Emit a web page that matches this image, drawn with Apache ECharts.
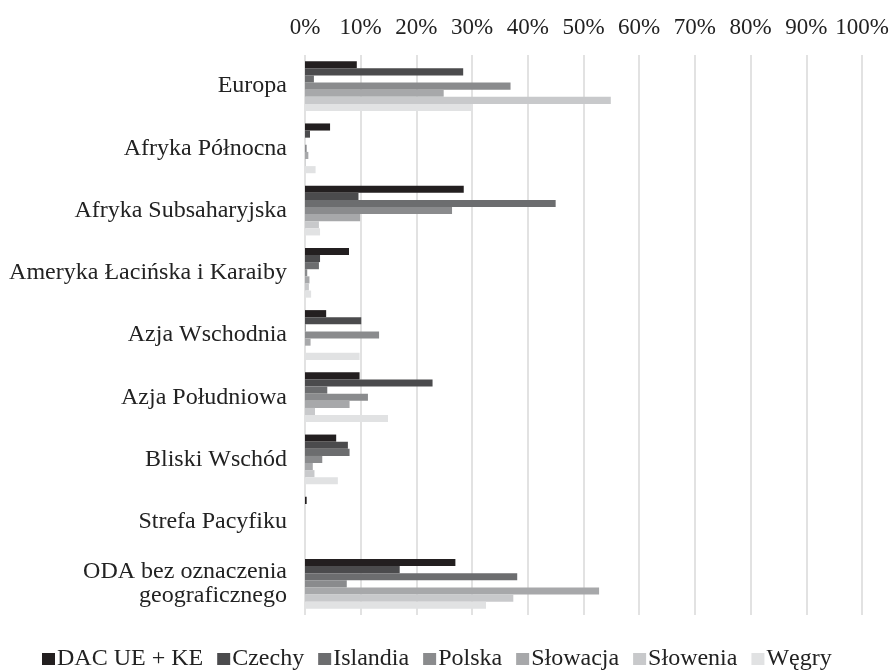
<!DOCTYPE html>
<html>
<head>
<meta charset="utf-8">
<script src="https://cdn.jsdelivr.net/npm/echarts@6/dist/echarts.min.js"></script>
<style>
  html, body { margin: 0; padding: 0; background: #fff; }
  #chart { width: 895px; height: 672px; }
</style>
</head>
<body>
<div id="chart"></div>
<script>
// regiony (od góry)
var categories = [
  'Europa',
  'Afryka Północna',
  'Afryka Subsaharyjska',
  'Ameryka Łacińska i Karaiby',
  'Azja Wschodnia',
  'Azja Południowa',
  'Bliski Wschód',
  'Strefa Pacyfiku',
  'ODA bez oznaczenia\ngeograficznego'
];
var xTicks = [0, 10, 20, 30, 40, 50, 60, 70, 80, 90, 100];

// udział w %
var dacUeKe   = [9.3, 4.5, 28.5, 7.9, 3.8, 9.8, 5.6, 0.3, 27.0];
var czechy    = [28.4, 0.9, 9.6, 2.7, 10.1, 22.9, 7.7, 0, 17.0];
var islandia  = [1.6, 0, 45.0, 2.5, 0.1, 4.0, 8.0, 0, 38.1];
var polska    = [36.9, 0.3, 26.4, 0.4, 13.3, 11.3, 3.1, 0, 7.5];
var slowacja  = [24.9, 0.6, 9.9, 0.8, 1.0, 8.0, 1.4, 0, 52.8];
var slowenia  = [54.9, 0.1, 2.5, 0.7, 0, 1.8, 1.7, 0, 37.4];
var wegry     = [30.0, 1.9, 2.7, 1.1, 9.8, 14.9, 5.9, 0, 32.5];

var seriesNames = ['DAC UE + KE', 'Czechy', 'Islandia', 'Polska', 'Słowacja', 'Słowenia', 'Węgry'];
var seriesData = [dacUeKe, czechy, islandia, polska, slowacja, slowenia, wegry];
var colors = ['#231f20', '#4b4b4d', '#6c6d6f', '#8a8b8d', '#a7a8aa', '#c8c9cb', '#e1e2e3'];

var font = "'Liberation Serif', 'Times New Roman', serif";

var myChart = echarts.init(document.getElementById('chart'));

myChart.setOption({
  animation: false,
  textStyle: { fontFamily: font },
  grid: {
    left: 305,
    right: 33,
    top: 55,
    bottom: 57,
    containLabel: false
  },
  legend: {
    bottom: 1,
    left: 42,
    padding: 0,
    data: seriesNames,
    icon: 'rect',
    itemWidth: 13,
    itemHeight: 12,
    itemGap: 14,
    textStyle: { color: '#222', fontSize: 24, fontFamily: font, padding: [0, 0, 0, -3] }
  },
  xAxis: {
    type: 'value',
    position: 'top',
    min: xTicks[0],
    max: xTicks[xTicks.length - 1],
    interval: 10,
    axisLine: { show: false },
    axisTick: { show: false },
    axisLabel: {
      margin: 16,
      color: '#222',
      fontSize: 23,
      fontFamily: font,
      formatter: '{value}%'
    },
    splitLine: { lineStyle: { color: '#d9d9d9', width: 1.5 } }
  },
  yAxis: {
    type: 'category',
    inverse: true,
    data: categories,
    axisLine: { show: false },
    axisTick: { show: false },
    axisLabel: {
      margin: 18,
      color: '#222',
      fontSize: 24,
      fontFamily: font,
      lineHeight: 24
    }
  },
  series: seriesNames.map(function (name, i) {
    return {
      name: name,
      type: 'bar',
      data: seriesData[i],
      barGap: '0%',
      barCategoryGap: '20%',
      itemStyle: { color: colors[i] }
    };
  })
});
</script>
</body>
</html>
